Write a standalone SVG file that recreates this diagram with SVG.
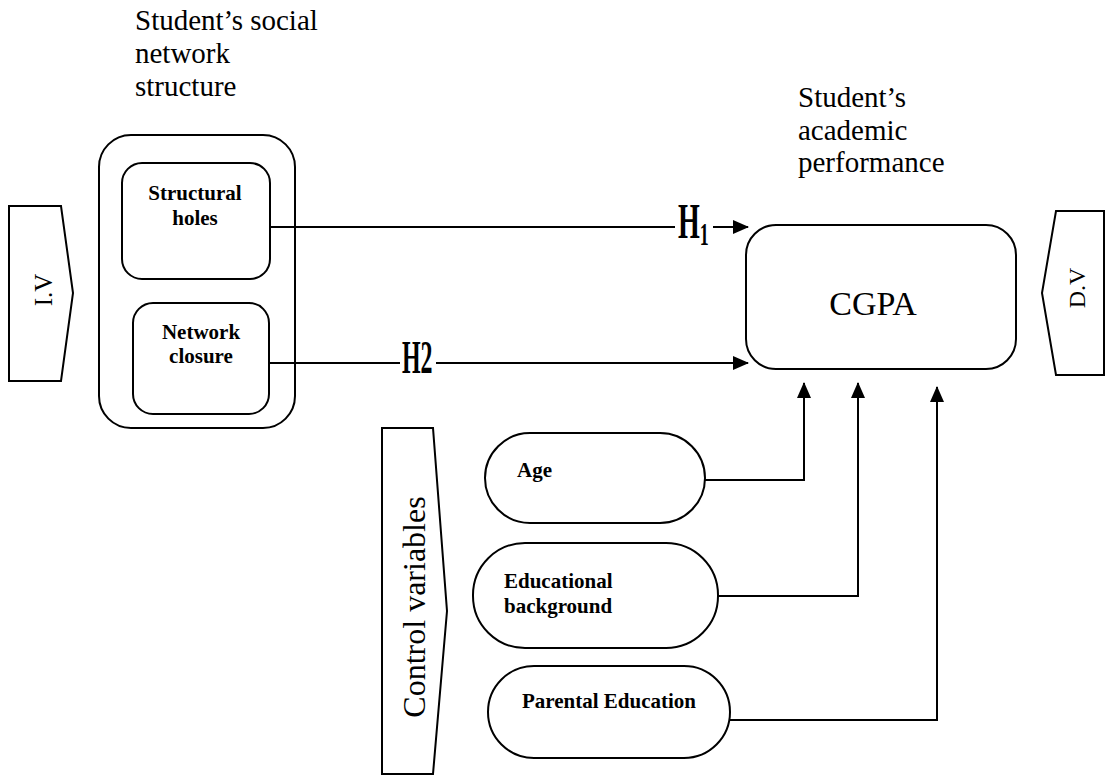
<svg xmlns="http://www.w3.org/2000/svg" width="1112" height="775" viewBox="0 0 1112 775" font-family="Liberation Serif, Times New Roman, serif">
  <style>
    .shape { fill: #fff; stroke: #000; stroke-width: 2; }
    .line { fill: none; stroke: #000; stroke-width: 2; }
    text { font-family: 'Liberation Serif', 'Times New Roman', serif; fill: #000; }
    .hdr { font-size: 29px; }
    .lbl { font-size: 21px; font-weight: bold; }
    .hyp { font-weight: bold; }
  </style>
  <defs>
    <marker id="arr" markerUnits="userSpaceOnUse" markerWidth="16" markerHeight="14" refX="15" refY="7" orient="auto">
      <path d="M0,0 L16,7 L0,14 Z" fill="#000"/>
    </marker>
  </defs>

  <rect width="1112" height="775" fill="#fff"/>

  <g id="iv">
    <polygon class="shape" points="9,206 61,206 73,293 61,381 9,381"/>
    <text font-size="25" text-anchor="middle" transform="translate(52,290) rotate(-90)">I.V</text>
  </g>

  <g id="dv">
    <polygon class="shape" points="1056,211 1104,211 1104,375 1056,375 1042,293"/>
    <text font-size="24" text-anchor="middle" transform="translate(1085,288) rotate(-90)">D.V</text>
  </g>

  <g id="control">
    <polygon class="shape" points="382,428 433,428 447,611 433,774 382,774"/>
    <text font-size="32" text-anchor="middle" transform="translate(425,607) rotate(-90)">Control variables</text>
  </g>

  <g id="header-left">
    <text class="hdr" x="135" y="30" font-family="Liberation Serif, serif">Student’s social</text>
    <text class="hdr" x="135" y="63" font-family="Liberation Serif, serif">network</text>
    <text class="hdr" x="135" y="96" font-family="Liberation Serif, serif">structure</text>
  </g>

  <g id="header-right">
    <text class="hdr" x="798" y="107" font-family="Liberation Serif, serif">Student’s</text>
    <text class="hdr" x="798" y="140" font-family="Liberation Serif, serif">academic</text>
    <text class="hdr" x="798" y="172" font-family="Liberation Serif, serif">performance</text>
  </g>

  <g id="network-structure">
    <rect class="shape" x="99" y="135" width="196" height="293" rx="32"/>
  </g>

  <g id="structural-holes">
    <rect class="shape" x="122" y="163" width="148" height="116" rx="20"/>
    <text class="lbl" x="195" y="200" text-anchor="middle">Structural</text>
    <text class="lbl" x="195" y="225" text-anchor="middle">holes</text>
  </g>

  <g id="network-closure">
    <rect class="shape" x="133" y="303" width="136" height="111" rx="20"/>
    <text class="lbl" x="201" y="339" text-anchor="middle">Network</text>
    <text class="lbl" x="201" y="363" text-anchor="middle">closure</text>
  </g>

  <g id="cgpa">
    <rect class="shape" x="746" y="225" width="270" height="144" rx="30"/>
    <text font-size="34" x="873" y="315" text-anchor="middle" font-family="Liberation Serif, serif">CGPA</text>
  </g>

  <g id="age">
    <rect class="shape" x="485" y="433" width="220" height="90" rx="45"/>
    <text class="lbl" x="517" y="477">Age</text>
  </g>

  <g id="educational-background">
    <rect class="shape" x="473" y="543" width="245" height="105" rx="52"/>
    <text class="lbl" x="504" y="588">Educational</text>
    <text class="lbl" x="504" y="613">background</text>
  </g>

  <g id="parental-education">
    <rect class="shape" x="488" y="666" width="242" height="92" rx="46"/>
    <text class="lbl" x="522" y="708">Parental Education</text>
  </g>

  <g id="connectors">
    <line class="line" x1="270" y1="227" x2="675" y2="227"/>
    <line class="line" x1="713" y1="227" x2="748" y2="227" marker-end="url(#arr)"/>
    <line class="line" x1="269" y1="363" x2="400" y2="363"/>
    <line class="line" x1="436" y1="363" x2="748" y2="363" marker-end="url(#arr)"/>
    <polyline class="line" points="705,480 804,480 804,383" marker-end="url(#arr)"/>
    <polyline class="line" points="718,596 858,596 858,383" marker-end="url(#arr)"/>
    <polyline class="line" points="730,720 937,720 937,387" marker-end="url(#arr)"/>
    <g transform="translate(678,238) scale(0.56,1)">
      <text class="hyp" font-size="50" x="0" y="0">H<tspan font-size="32" dy="7">1</tspan></text>
    </g>
    <g transform="translate(402,373) scale(0.52,1)">
      <text class="hyp" font-size="46" x="0" y="0">H2</text>
    </g>
  </g>
</svg>
